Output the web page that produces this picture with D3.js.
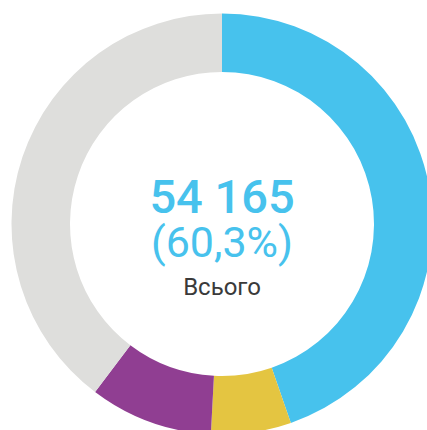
<!DOCTYPE html>
<html>
<head>
<meta charset="utf-8">
<script src="https://cdn.jsdelivr.net/npm/d3@7"></script>
<style>
  html, body { margin: 0; padding: 0; background: #fff; }
  svg { display: block; }
</style>
</head>
<body>
<div id="chart"></div>
<script>
// Donut: share of total, clockwise from 12 o'clock
const categories = ['blue', 'yellow', 'purple', 'rest'];
const values = [40150, 5520, 8495, 35661];
const colors = ['#47c2ed', '#e4c541', '#903e92', '#dededc'];

const totalLabel = '54 165';
const shareLabel = '(60,3%)';
const caption = 'Всього';

const W = 427, H = 430;
const cx = 222, cy = 224;
const outerR = 210.5, innerR = 152;

const svg = d3.select('#chart').append('svg')
    .attr('width', W)
    .attr('height', H);

const g = svg.append('g')
    .attr('transform', `translate(${cx},${cy})`);

const pie = d3.pie()
    .sort(null)
    .value(d => d.value);

const arc = d3.arc()
    .innerRadius(innerR)
    .outerRadius(outerR);

const slices = categories.map((c, i) => ({ name: c, value: values[i], color: colors[i] }));

g.selectAll('.slice')
    .data(pie(slices))
    .enter()
    .append('path')
    .attr('class', 'slice')
    .attr('d', arc)
    .attr('fill', d => d.data.color);

// Centre labels
g.append('text')
    .attr('x', 0)
    .attr('y', -11)
    .attr('text-anchor', 'middle')
    .style('font-family', 'Roboto, sans-serif')
    .style('font-weight', '500')
    .style('font-size', '47px')
    .style('fill', '#47c2ed')
    .text(totalLabel);

g.append('text')
    .attr('x', 0)
    .attr('y', 33)
    .attr('text-anchor', 'middle')
    .style('font-family', 'Roboto, sans-serif')
    .style('font-size', '43px')
    .style('fill', '#47c2ed')
    .text(shareLabel);

g.append('text')
    .attr('x', 0)
    .attr('y', 71)
    .attr('text-anchor', 'middle')
    .style('font-family', 'Roboto, sans-serif')
    .style('font-size', '24px')
    .style('fill', '#3a3a3a')
    .text(caption);
</script>
</body>
</html>
